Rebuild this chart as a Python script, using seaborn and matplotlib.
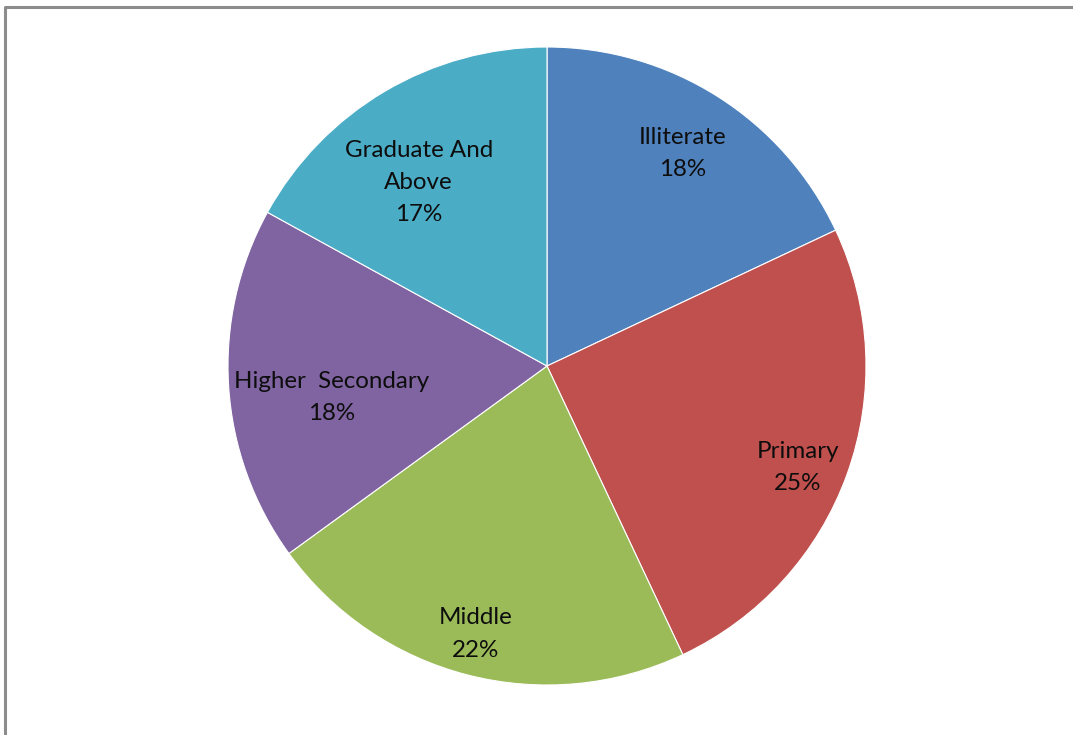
import numpy as np
import matplotlib
matplotlib.use("Agg")
import matplotlib.pyplot as plt
import matplotlib.transforms as mtransforms
import seaborn as sns

# Share of respondents by education level
categories = ["Illiterate", "Primary", "Middle", "Higher  Secondary", "Graduate And\nAbove"]
shares = [18, 25, 22, 18, 17]

sns.set_theme(style="white")
plt.rcParams["font.family"] = ["Lato", "DejaVu Sans"]

colors = ["#4F81BD", "#C0504D", "#9BBB59", "#8064A2", "#4BACC6"]

W, H = 1073, 735
fig = plt.figure(figsize=(W / 100, H / 100), dpi=100)
fig.patch.set_facecolor("white")

# Chart-area frame (gray line along the left and top edges)
frame = fig.add_axes([0, 0, 1, 1])
frame.set_xlim(0, W)
frame.set_ylim(H, 0)
frame.axis("off")
frame.plot([5, 5, W], [H, 7, 7], color="#8c8c8c", lw=2.2, solid_capstyle="butt")

cx, cy, r = 547, 366, 319
ax = fig.add_axes([(cx - r) / W, 1 - (cy + r) / H, 2 * r / W, 2 * r / H])
wedges, _ = ax.pie(
    shares,
    colors=colors,
    startangle=90,
    counterclock=False,
    radius=1,
    wedgeprops=dict(edgecolor="white", linewidth=0.8),
)
ax.set_xlim(-1, 1)
ax.set_ylim(-1, 1)
ax.set_aspect("auto")
ax.axis("off")

# Nudge the text block down slightly so the glyphs, not the box, sit on the anchor
nudge = ax.transData + mtransforms.ScaledTranslation(0, -3 / 100, fig.dpi_scale_trans)

# Label anchors: (fraction of radius, bearing clockwise from 12 o'clock in degrees)
label_anchor = [(0.80, 32.2), (0.845, 111.5), (0.86, 195.0), (0.68, 262.5), (0.71, 325.5)]
for name, val, (lr, bearing) in zip(categories, shares, label_anchor):
    a = np.deg2rad(90 - bearing)
    ax.text(lr * np.cos(a), lr * np.sin(a), f"{name}\n{val}%", transform=nudge,
            ha="center", va="center", fontsize=17.4, color="#0d0d0d",
            linespacing=1.65)

fig.savefig("out.png", dpi=100, facecolor="white")
